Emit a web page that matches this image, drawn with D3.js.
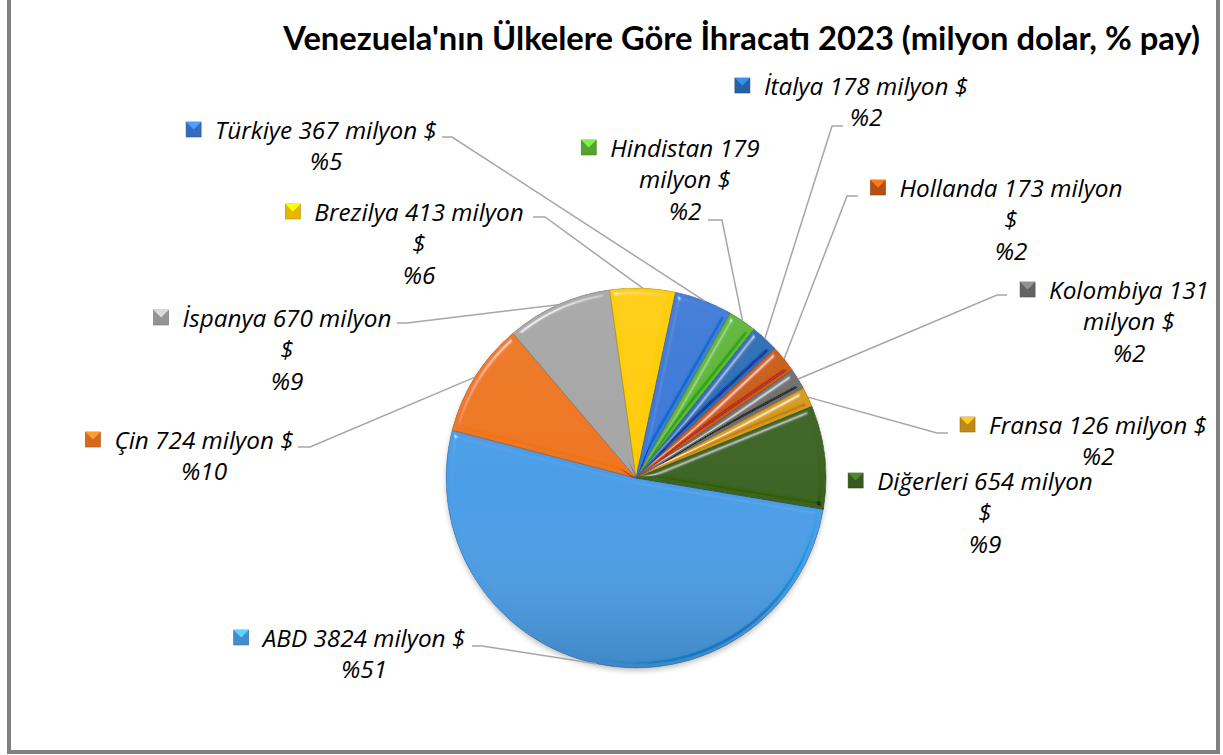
<!DOCTYPE html>
<html>
<head>
<meta charset="utf-8">
<script src="https://cdn.jsdelivr.net/npm/d3@7"></script>
<style>
  body { margin: 0; background: #fff; }
  svg { display: block; }
  text { fill: #000; }
</style>
</head>
<body>
<svg id="chart"></svg>
<script>
// data (milyon $)
const countries = ["ABD", "Çin", "İspanya", "Brezilya", "Türkiye", "Hindistan",
    "İtalya", "Hollanda", "Kolombiya", "Fransa", "Diğerleri"];
const exports2023 = [3824, 724, 670, 413, 367, 179, 178, 173, 131, 126, 654];
const sliceColors = ["#4a9de6", "#ee7521", "#a5a5a5", "#ffcc00", "#3a78d6", "#5db535",
    "#2a6db5", "#c95a12", "#6e6e6e", "#d39a1a", "#3d6424"];
const titleText = "Venezuela'nın Ülkelere Göre İhracatı 2023 (milyon dolar, % pay)";

// label placement (Excel style): block centre, words per line, leader start
const labelLayout = [
    { cx: 364, cy: 638, split: [4], lead: [472, 646, 482] },    // ABD
    { cx: 204, cy: 440, split: [4], lead: [298, 447, 310] },    // Çin
    { cx: 287, cy: 318, split: [3, 1], lead: [397, 323, 407] }, // İspanya
    { cx: 419, cy: 212, split: [3, 1], lead: [533, 217, 545] }, // Brezilya
    { cx: 326, cy: 130, split: [4], lead: [442, 137, 452] },    // Türkiye
    { cx: 685, cy: 148, split: [2, 2], lead: [708, 220, 722] }, // Hindistan
    { cx: 866, cy: 86, split: [4], lead: [843, 126, 832] },     // İtalya
    { cx: 1011, cy: 188, split: [3, 1], lead: [858, 196, 847] },// Hollanda
    { cx: 1129, cy: 290, split: [2, 2], lead: [1007, 295, 997] },// Kolombiya
    { cx: 1098, cy: 425, split: [4], lead: [948, 433, 937] },   // Fransa
    { cx: 985, cy: 481, split: [3, 1], lead: null }             // Diğerleri
];

const width = 1223, height = 755;
const cx = 636, cy = 478, radius = 190;
const startDeg = 99.5;
const lineH = 31.5;
const labelFont = '"Open Sans", "Noto Sans", sans-serif';

const svg = d3.select('#chart')
    .attr('width', width)
    .attr('height', height);

const defs = svg.append('defs');

// bevel look of the slices (region in the pie group's own coordinates)
const bevel = defs.append('filter')
    .attr('id', 'bevel')
    .attr('filterUnits', 'userSpaceOnUse')
    .attr('x', -width).attr('y', -height).attr('width', 2 * width).attr('height', 2 * height);
bevel.append('feGaussianBlur')
    .attr('in', 'SourceAlpha').attr('stdDeviation', 3).attr('result', 'b');
bevel.append('feSpecularLighting')
    .attr('in', 'b').attr('surfaceScale', 5)
    .attr('specularConstant', 0.9).attr('specularExponent', 60)
    .attr('lighting-color', '#ffffff').attr('result', 's')
    .append('feDistantLight').attr('azimuth', 235).attr('elevation', 40);
bevel.append('feComposite')
    .attr('in', 's').attr('in2', 'SourceAlpha').attr('operator', 'in').attr('result', 's2');
bevel.append('feSpecularLighting')
    .attr('in', 'b').attr('surfaceScale', 5)
    .attr('specularConstant', 0.9).attr('specularExponent', 60)
    .attr('lighting-color', '#ffffff').attr('result', 'd')
    .append('feDistantLight').attr('azimuth', 55).attr('elevation', 40);
bevel.append('feComposite')
    .attr('in', 'd').attr('in2', 'SourceAlpha').attr('operator', 'in').attr('result', 'd2');
bevel.append('feComposite')
    .attr('in', 'SourceGraphic').attr('in2', 's2').attr('operator', 'arithmetic')
    .attr('k1', 0).attr('k2', 1).attr('k3', 0.55).attr('k4', 0).attr('result', 'lit');
bevel.append('feComposite')
    .attr('in', 'lit').attr('in2', 'd2').attr('operator', 'arithmetic')
    .attr('k1', 0).attr('k2', 1).attr('k3', -0.35).attr('k4', 0).attr('result', 'shaded');
bevel.append('feComposite')
    .attr('in', 'shaded').attr('in2', 'SourceAlpha').attr('operator', 'in');

const shadow = defs.append('filter')
    .attr('id', 'shadow')
    .attr('x', '-20%').attr('y', '-20%').attr('width', '140%').attr('height', '140%');
shadow.append('feGaussianBlur').attr('stdDeviation', 3);

// light from the top, dark at the bottom
const shade = defs.append('linearGradient')
    .attr('id', 'shade').attr('x1', 0).attr('y1', 0).attr('x2', 0).attr('y2', 1);
shade.append('stop').attr('offset', '0%').attr('stop-color', '#fff').attr('stop-opacity', 0.06);
shade.append('stop').attr('offset', '55%').attr('stop-color', '#fff').attr('stop-opacity', 0);
shade.append('stop').attr('offset', '100%').attr('stop-color', '#000').attr('stop-opacity', 0.14);

// frame
svg.append('rect')
    .attr('x', 9).attr('y', -10)
    .attr('width', 1209).attr('height', 762)
    .attr('fill', 'none')
    .attr('stroke', '#808080')
    .attr('stroke-width', 4);

// title, fitted to the width seen in the picture
const title = svg.append('text')
    .attr('x', 1200).attr('y', 50)
    .attr('text-anchor', 'end')
    .style('font-family', 'Lato, "Noto Sans", sans-serif')
    .style('font-weight', 'bold')
    .style('font-size', '28px')
    .text(titleText);
const tLen = title.node().getComputedTextLength();
title.style('font-size', (28 * 917 / tLen) + 'px');

const total = d3.sum(exports2023);
const data = countries.map((c, i) => ({
    name: c, value: exports2023[i], color: sliceColors[i],
    pct: Math.round(exports2023[i] / total * 100), layout: labelLayout[i]
}));

const pie = d3.pie()
    .sort(null)
    .value(d => d.value)
    .startAngle(startDeg * Math.PI / 180)
    .endAngle(startDeg * Math.PI / 180 + 2 * Math.PI);
const arcs = pie(data);

const arc = d3.arc().innerRadius(0).outerRadius(radius);
const edgeArc = d3.arc().innerRadius(radius).outerRadius(radius);

const chart = svg.append('g')
    .attr('transform', `translate(${cx},${cy})`);

chart.append('circle')
    .attr('cx', 0).attr('cy', 3).attr('r', radius - 1)
    .attr('fill', '#000').attr('opacity', 0.3)
    .attr('filter', 'url(#shadow)');

chart.selectAll('path.slice')
    .data(arcs)
    .join('path')
    .attr('class', 'slice')
    .attr('d', arc)
    .attr('fill', d => d.data.color)
    .attr('stroke', d => d3.color(d.data.color).darker(0.9))
    .attr('stroke-width', 0.8)
    .attr('filter', 'url(#bevel)');

chart.append('circle')
    .attr('r', radius)
    .attr('fill', 'url(#shade)');

// leader lines
chart.selectAll('polyline.leader')
    .data(arcs.filter(d => d.data.layout.lead))
    .join('polyline')
    .attr('class', 'leader')
    .attr('fill', 'none')
    .attr('stroke', '#a6a6a6')
    .attr('stroke-width', 1.5)
    .attr('points', d => {
        const [x0, y0, x1] = d.data.layout.lead;
        const e = edgeArc.centroid(d);
        return [[x0 - cx, y0 - cy], [x1 - cx, y0 - cy], e].map(p => p.join(',')).join(' ');
    });

// label font size: fit "Türkiye 367 milyon $" to ~222px like the picture
const probe = svg.append('text')
    .style('font-family', labelFont).style('font-style', 'italic').style('font-size', '20px')
    .text('Türkiye 367 milyon $');
const labelSize = 20 * 222 / probe.node().getComputedTextLength();
probe.remove();

const labels = svg.append('g');
data.forEach(d => {
    const words = `${d.name} ${d.value} milyon $`.split(' ');
    const lines = [];
    let k = 0;
    d.layout.split.forEach(n => { lines.push(words.slice(k, k + n).join(' ')); k += n; });
    lines.push(`%${d.pct}`);

    const g = labels.append('g');
    const t = g.append('text')
        .attr('text-anchor', 'middle')
        .style('font-family', labelFont)
        .style('font-style', 'italic')
        .style('font-size', labelSize + 'px');
    lines.forEach((ln, i) => {
        t.append('tspan')
            .attr('x', d.layout.cx)
            .attr('y', d.layout.cy + i * lineH)
            .attr('dy', '0.36em')
            .text(ln);
    });
    const firstW = t.select('tspan').node().getComputedTextLength();
    const mx = d.layout.cx - firstW / 2 - 29;
    const my = d.layout.cy - 8;
    const c = d3.color(d.color);
    g.append('rect')
        .attr('x', mx).attr('y', my)
        .attr('width', 15).attr('height', 15)
        .attr('fill', c.darker(0.3))
        .attr('stroke', c.darker(1)).attr('stroke-width', 0.6);
    g.append('path')
        .attr('d', `M${mx},${my}L${mx + 15},${my}L${mx + 7.5},${my + 7.5}Z`)
        .attr('fill', c.brighter(0.8));
});
</script>
</body>
</html>
